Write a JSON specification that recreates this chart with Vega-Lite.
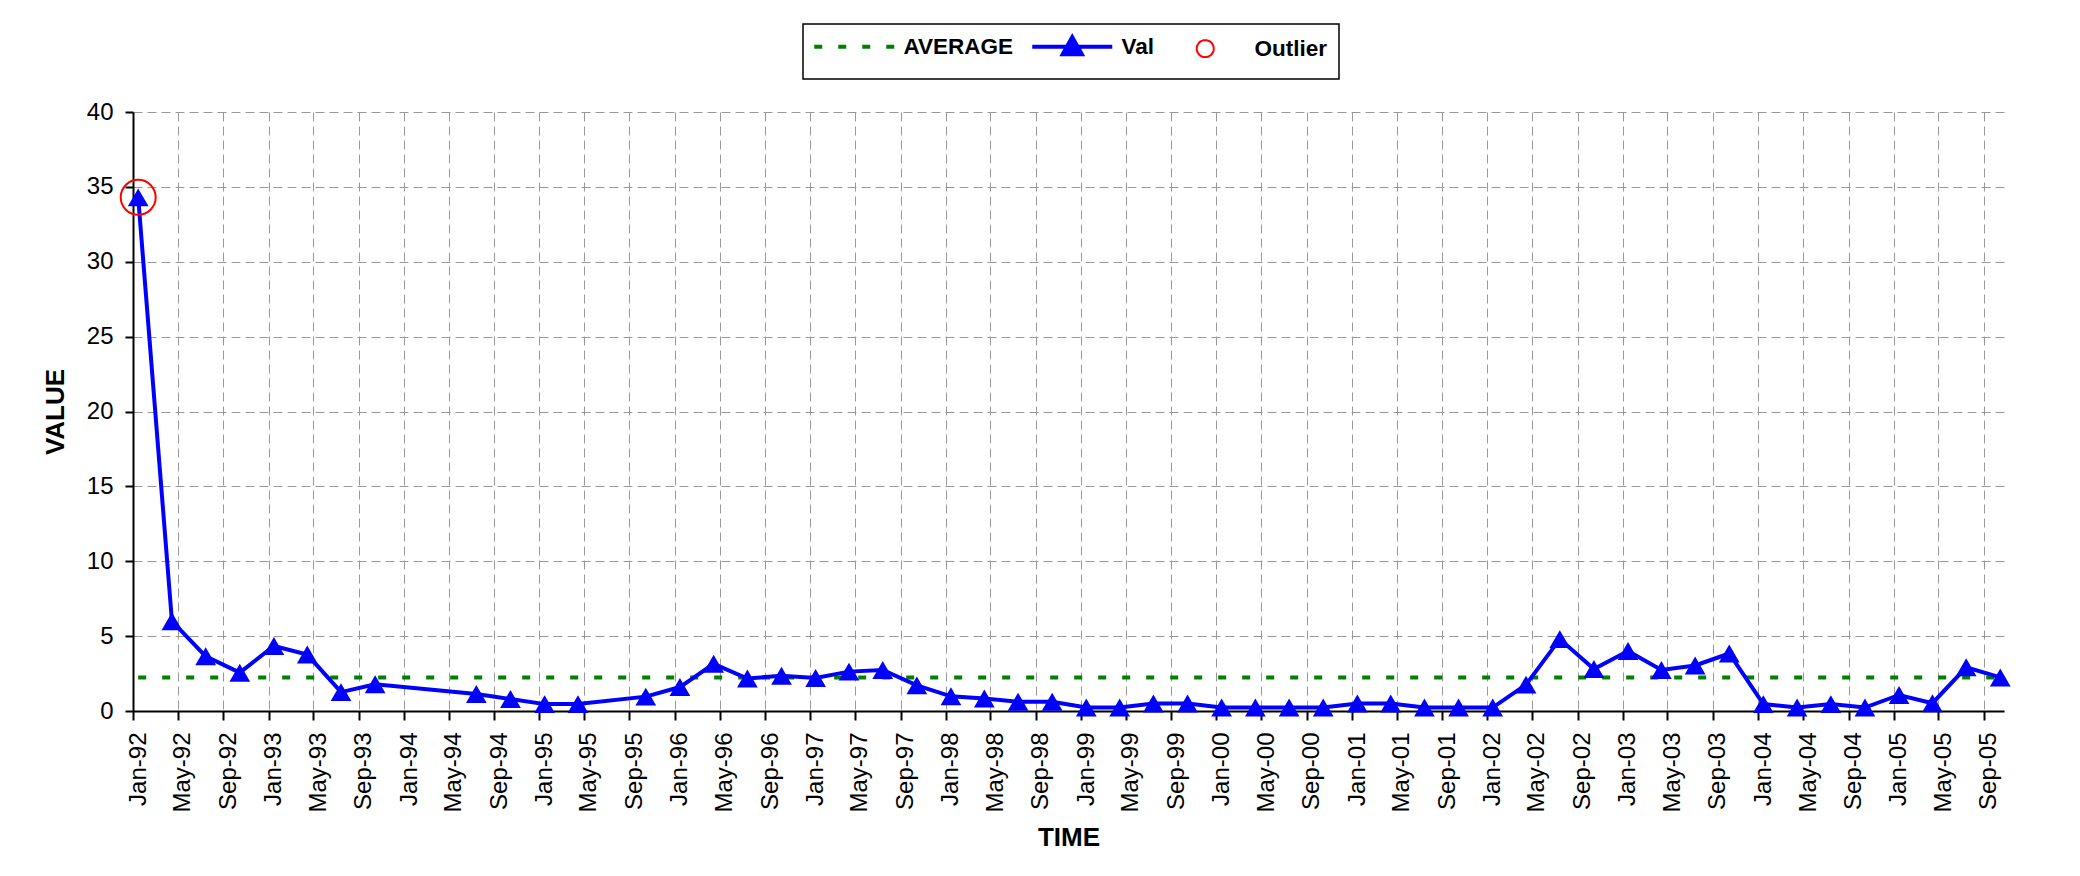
{
  "$schema": "https://vega.github.io/schema/vega-lite/v6.json",
  "width": 1871,
  "height": 599,
  "padding": {"left": 42, "top": 23, "right": 5, "bottom": 5},
  "background": "white",
  "config": {
    "view": {"stroke": null},
    "font": "Liberation Sans",
    "axis": {
      "labelFont": "Liberation Sans",
      "labelFontSize": 24,
      "labelColor": "black",
      "labelPadding": 12,
      "tickWidth": 2,
      "tickColor": "black",
      "domainColor": "black",
      "domainWidth": 2,
      "grid": true,
      "gridColor": "#999999",
      "gridDash": [9, 5],
      "gridWidth": 1,
      "titleFont": "Liberation Sans",
      "titleFontSize": 26,
      "titleFontWeight": "bold",
      "titleColor": "black"
    },
    "axisX": {"tickSize": 9, "titlePadding": 12},
    "axisY": {"tickSize": 8, "titlePadding": 18}
  },
  "datasets": {
    "series": [
      {"date": "1992-01-15", "value": 34.3},
      {"date": "1992-04-15", "value": 6.0},
      {"date": "1992-07-15", "value": 3.65},
      {"date": "1992-10-15", "value": 2.56},
      {"date": "1993-01-15", "value": 4.34},
      {"date": "1993-04-15", "value": 3.77},
      {"date": "1993-07-15", "value": 1.26},
      {"date": "1993-10-15", "value": 1.78},
      {"date": "1994-07-15", "value": 1.14},
      {"date": "1994-10-15", "value": 0.8},
      {"date": "1995-01-15", "value": 0.46},
      {"date": "1995-04-15", "value": 0.46},
      {"date": "1995-10-15", "value": 0.96},
      {"date": "1996-01-15", "value": 1.6},
      {"date": "1996-04-15", "value": 3.15},
      {"date": "1996-07-15", "value": 2.17},
      {"date": "1996-10-15", "value": 2.35},
      {"date": "1997-01-15", "value": 2.2},
      {"date": "1997-04-15", "value": 2.63},
      {"date": "1997-07-15", "value": 2.74},
      {"date": "1997-10-15", "value": 1.71},
      {"date": "1998-01-15", "value": 0.98},
      {"date": "1998-04-15", "value": 0.84},
      {"date": "1998-07-15", "value": 0.62},
      {"date": "1998-10-15", "value": 0.62},
      {"date": "1999-01-15", "value": 0.23},
      {"date": "1999-04-15", "value": 0.23},
      {"date": "1999-07-15", "value": 0.5},
      {"date": "1999-10-15", "value": 0.5},
      {"date": "2000-01-15", "value": 0.23},
      {"date": "2000-04-15", "value": 0.23},
      {"date": "2000-07-15", "value": 0.23},
      {"date": "2000-10-15", "value": 0.23},
      {"date": "2001-01-15", "value": 0.5},
      {"date": "2001-04-15", "value": 0.5},
      {"date": "2001-07-15", "value": 0.23},
      {"date": "2001-10-15", "value": 0.23},
      {"date": "2002-01-15", "value": 0.23},
      {"date": "2002-04-15", "value": 1.76},
      {"date": "2002-07-15", "value": 4.8},
      {"date": "2002-10-15", "value": 2.8},
      {"date": "2003-01-15", "value": 4.0},
      {"date": "2003-04-15", "value": 2.74},
      {"date": "2003-07-15", "value": 3.04},
      {"date": "2003-10-15", "value": 3.84},
      {"date": "2004-01-15", "value": 0.46},
      {"date": "2004-04-15", "value": 0.23},
      {"date": "2004-07-15", "value": 0.46},
      {"date": "2004-10-15", "value": 0.23},
      {"date": "2005-01-15", "value": 1.07},
      {"date": "2005-04-15", "value": 0.52},
      {"date": "2005-07-15", "value": 2.92},
      {"date": "2005-10-15", "value": 2.24}
    ],
    "outliers": [
      {"date": "1992-01-15", "value": 34.3}
    ]
  },
  "layer": [
    {
      "data": {"name": "series"},
      "mark": {"type": "rule", "strokeWidth": 4, "strokeDash": [8, 16]},
      "encoding": {
        "x": {"aggregate": "min", "field": "date", "type": "temporal", "title": "TIME"},
        "x2": {"aggregate": "max", "field": "date"},
        "y": {"aggregate": "mean", "field": "value", "type": "quantitative", "title": "VALUE"},
        "color": {
          "datum": "AVERAGE",
          "scale": {"domain": ["AVERAGE", "Val", "Outlier"], "range": ["#008000", "#0000ff", "#ff0000"]},
          "legend": {
            "title": null,
            "orient": "none",
            "legendX": 670,
            "legendY": -88,
            "direction": "horizontal",
            "strokeColor": "black",
            "padding": 11,
            "labelFont": "Liberation Sans",
            "labelFontSize": 22.5,
            "labelFontWeight": "bold",
            "labelColor": "black",
            "symbolSize": 400,
            "symbolStrokeWidth": 4,
            "symbolOffset": 29,
            "labelOffset": 38,
            "columnPadding": 10,
            "encode": {
              "symbols": {
                "update": {
                  "shape": {"signal": "datum.value === 'AVERAGE' ? 'M0,-1.3M0,1.3M-4,0H4' : datum.value === 'Val' ? 'M0,-1.3M0,1.3M-4,0H4M0,-0.95L0.95,0.75L-0.95,0.75Z' : 'M0,-1.3M0,1.3M0.85,0A0.85,0.85,0,1,1,-0.85,0A0.85,0.85,0,1,1,0.85,0Z'"},
                  "fill": {"signal": "datum.value === 'Val' ? '#0000ff' : 'transparent'"},
                  "fillOpacity": {"signal": "datum.value === 'Val' ? 1 : 0"},
                  "stroke": {"signal": "datum.value === 'AVERAGE' ? '#008000' : datum.value === 'Val' ? '#0000ff' : '#ff0000'"},
                  "strokeDash": {"signal": "datum.value === 'AVERAGE' ? [8,16] : [1,0]"},
                  "strokeWidth": {"signal": "datum.value === 'Outlier' ? 2 : 4"},
                  "opacity": {"value": 1}
                }
              },
              "legend": {
                "update": {
                  "strokeWidth": {"value": 1.5}
                }
              }
            }
          }
        }
      }
    },
    {
      "data": {"name": "series"},
      "mark": {"type": "line", "strokeWidth": 4},
      "encoding": {
        "x": {
          "field": "date",
          "type": "temporal",
          "title": "TIME",
          "scale": {"type": "utc", "domain": [{"year": 1992, "month": 1, "date": 1, "utc": true}, {"year": 2005, "month": 10, "date": 25, "utc": true}], "nice": false},
          "axis": {
            "format": "%b-%y",
            "tickCount": {"interval": "month", "step": 4},
            "labelAngle": -90,
            "labelOffset": 5,
            "labelOverlap": false,
            "labelFlush": false
          }
        },
        "y": {
          "field": "value",
          "type": "quantitative",
          "title": "VALUE",
          "scale": {"domain": [0, 40], "nice": false},
          "axis": {
            "values": [0, 5, 10, 15, 20, 25, 30, 35, 40]
          }
        },
        "color": {"datum": "Val"}
      }
    },
    {
      "data": {"name": "series"},
      "mark": {"type": "point", "shape": "triangle-up", "filled": true, "size": 430, "opacity": 1},
      "encoding": {
        "x": {"field": "date", "type": "temporal", "title": "TIME"},
        "y": {"field": "value", "type": "quantitative", "title": "VALUE"},
        "color": {"datum": "Val"}
      }
    },
    {
      "data": {"name": "outliers"},
      "mark": {"type": "point", "shape": "circle", "filled": false, "size": 1225, "strokeWidth": 2, "opacity": 1},
      "encoding": {
        "x": {"field": "date", "type": "temporal", "title": "TIME"},
        "y": {"field": "value", "type": "quantitative", "title": "VALUE"},
        "color": {"datum": "Outlier"}
      }
    }
  ]
}
